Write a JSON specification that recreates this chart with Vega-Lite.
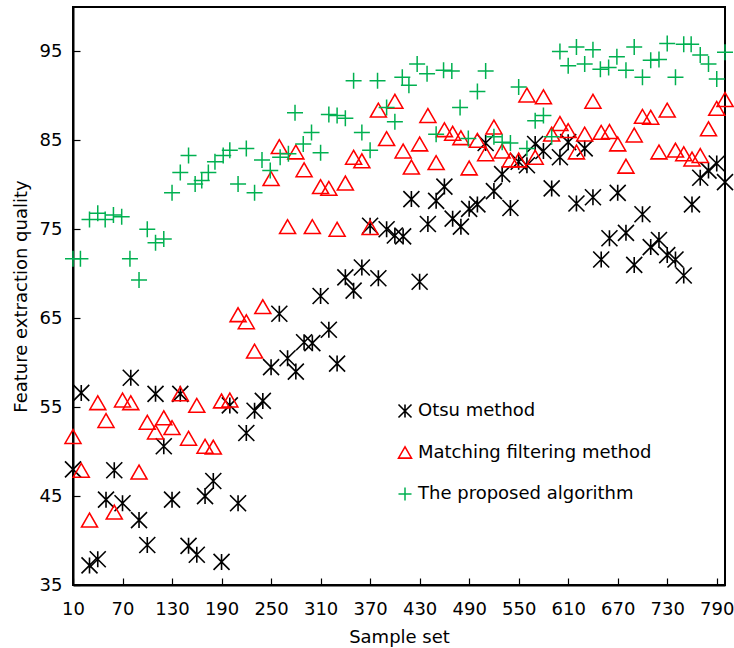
{
  "$schema": "https://vega.github.io/schema/vega-lite/v6.json",
  "width": 652,
  "height": 578,
  "autosize": {"type": "none"},
  "padding": {"left": 73, "top": 7, "right": 9, "bottom": 63},
  "background": "white",
  "config": {
    "view": {"stroke": "black", "strokeWidth": 2},
    "font": "DejaVu Sans",
    "axis": {
      "domainColor": "black", "domainWidth": 2, "tickColor": "black", "tickWidth": 1.2,
      "grid": false, "labelFont": "DejaVu Sans", "labelFontSize": 18, "labelColor": "black",
      "titleFont": "DejaVu Sans", "titleFontSize": 18, "titleFontWeight": "normal", "titleColor": "black"
    }
  },
  "data": {"values": [
    {"x":10,"y":48,"s":"Otsu method"},{"x":20,"y":56.6,"s":"Otsu method"},{"x":30,"y":37.2,"s":"Otsu method"},{"x":40,"y":37.9,"s":"Otsu method"},{"x":50,"y":44.6,"s":"Otsu method"},{"x":60,"y":47.9,"s":"Otsu method"},{"x":70,"y":44.2,"s":"Otsu method"},{"x":80,"y":58.3,"s":"Otsu method"},{"x":90,"y":42.3,"s":"Otsu method"},{"x":100,"y":39.5,"s":"Otsu method"},
    {"x":110,"y":56.5,"s":"Otsu method"},{"x":120,"y":50.6,"s":"Otsu method"},{"x":130,"y":44.6,"s":"Otsu method"},{"x":140,"y":56.5,"s":"Otsu method"},{"x":150,"y":39.4,"s":"Otsu method"},{"x":160,"y":38.4,"s":"Otsu method"},{"x":170,"y":45,"s":"Otsu method"},{"x":180,"y":46.7,"s":"Otsu method"},{"x":190,"y":37.6,"s":"Otsu method"},{"x":200,"y":55.2,"s":"Otsu method"},
    {"x":210,"y":44.2,"s":"Otsu method"},{"x":220,"y":52.1,"s":"Otsu method"},{"x":230,"y":54.6,"s":"Otsu method"},{"x":240,"y":55.7,"s":"Otsu method"},{"x":250,"y":59.5,"s":"Otsu method"},{"x":260,"y":65.5,"s":"Otsu method"},{"x":270,"y":60.5,"s":"Otsu method"},{"x":280,"y":59,"s":"Otsu method"},{"x":290,"y":62.3,"s":"Otsu method"},{"x":300,"y":62.2,"s":"Otsu method"},
    {"x":310,"y":67.5,"s":"Otsu method"},{"x":320,"y":63.7,"s":"Otsu method"},{"x":330,"y":59.9,"s":"Otsu method"},{"x":340,"y":69.6,"s":"Otsu method"},{"x":350,"y":68.1,"s":"Otsu method"},{"x":360,"y":70.7,"s":"Otsu method"},{"x":370,"y":75.4,"s":"Otsu method"},{"x":380,"y":69.5,"s":"Otsu method"},{"x":390,"y":75,"s":"Otsu method"},{"x":400,"y":74.3,"s":"Otsu method"},
    {"x":410,"y":74.2,"s":"Otsu method"},{"x":420,"y":78.4,"s":"Otsu method"},{"x":430,"y":69.1,"s":"Otsu method"},{"x":440,"y":75.6,"s":"Otsu method"},{"x":450,"y":78.2,"s":"Otsu method"},{"x":460,"y":79.8,"s":"Otsu method"},{"x":470,"y":76.2,"s":"Otsu method"},{"x":480,"y":75.3,"s":"Otsu method"},{"x":490,"y":77.3,"s":"Otsu method"},{"x":500,"y":77.8,"s":"Otsu method"},
    {"x":510,"y":84.7,"s":"Otsu method"},{"x":520,"y":79.3,"s":"Otsu method"},{"x":530,"y":81.2,"s":"Otsu method"},{"x":540,"y":77.4,"s":"Otsu method"},{"x":550,"y":82.6,"s":"Otsu method"},{"x":560,"y":82.2,"s":"Otsu method"},{"x":570,"y":84.6,"s":"Otsu method"},{"x":580,"y":83.8,"s":"Otsu method"},{"x":590,"y":79.6,"s":"Otsu method"},{"x":600,"y":83.1,"s":"Otsu method"},
    {"x":610,"y":84.8,"s":"Otsu method"},{"x":620,"y":77.9,"s":"Otsu method"},{"x":630,"y":84.1,"s":"Otsu method"},{"x":640,"y":78.6,"s":"Otsu method"},{"x":650,"y":71.6,"s":"Otsu method"},{"x":660,"y":74,"s":"Otsu method"},{"x":670,"y":79.1,"s":"Otsu method"},{"x":680,"y":74.6,"s":"Otsu method"},{"x":690,"y":71,"s":"Otsu method"},{"x":700,"y":76.7,"s":"Otsu method"},
    {"x":710,"y":73,"s":"Otsu method"},{"x":720,"y":73.8,"s":"Otsu method"},{"x":730,"y":72.1,"s":"Otsu method"},{"x":740,"y":71.6,"s":"Otsu method"},{"x":750,"y":69.8,"s":"Otsu method"},{"x":760,"y":77.8,"s":"Otsu method"},{"x":770,"y":80.8,"s":"Otsu method"},{"x":780,"y":81.6,"s":"Otsu method"},{"x":790,"y":82.4,"s":"Otsu method"},{"x":800,"y":80.3,"s":"Otsu method"},

    {"x":10,"y":51.7,"s":"Matching filtering method"},{"x":20,"y":47.9,"s":"Matching filtering method"},{"x":30,"y":42.3,"s":"Matching filtering method"},{"x":40,"y":55.5,"s":"Matching filtering method"},{"x":50,"y":53.5,"s":"Matching filtering method"},{"x":60,"y":43.2,"s":"Matching filtering method"},{"x":70,"y":55.8,"s":"Matching filtering method"},{"x":80,"y":55.5,"s":"Matching filtering method"},{"x":90,"y":47.7,"s":"Matching filtering method"},{"x":100,"y":53.3,"s":"Matching filtering method"},
    {"x":110,"y":52.2,"s":"Matching filtering method"},{"x":120,"y":53.8,"s":"Matching filtering method"},{"x":130,"y":52.7,"s":"Matching filtering method"},{"x":140,"y":56.5,"s":"Matching filtering method"},{"x":150,"y":51.5,"s":"Matching filtering method"},{"x":160,"y":55.2,"s":"Matching filtering method"},{"x":170,"y":50.6,"s":"Matching filtering method"},{"x":180,"y":50.5,"s":"Matching filtering method"},{"x":190,"y":55.7,"s":"Matching filtering method"},{"x":200,"y":55.8,"s":"Matching filtering method"},
    {"x":210,"y":65.4,"s":"Matching filtering method"},{"x":220,"y":64.6,"s":"Matching filtering method"},{"x":230,"y":61.3,"s":"Matching filtering method"},{"x":240,"y":66.3,"s":"Matching filtering method"},{"x":250,"y":80.7,"s":"Matching filtering method"},{"x":260,"y":84.3,"s":"Matching filtering method"},{"x":270,"y":75.3,"s":"Matching filtering method"},{"x":280,"y":83.7,"s":"Matching filtering method"},{"x":290,"y":81.7,"s":"Matching filtering method"},{"x":300,"y":75.3,"s":"Matching filtering method"},
    {"x":310,"y":79.8,"s":"Matching filtering method"},{"x":320,"y":79.6,"s":"Matching filtering method"},{"x":330,"y":75,"s":"Matching filtering method"},{"x":340,"y":80.2,"s":"Matching filtering method"},{"x":350,"y":83.1,"s":"Matching filtering method"},{"x":360,"y":82.7,"s":"Matching filtering method"},{"x":370,"y":75.2,"s":"Matching filtering method"},{"x":380,"y":88.4,"s":"Matching filtering method"},{"x":390,"y":85.2,"s":"Matching filtering method"},{"x":400,"y":89.4,"s":"Matching filtering method"},
    {"x":410,"y":83.8,"s":"Matching filtering method"},{"x":420,"y":82,"s":"Matching filtering method"},{"x":430,"y":84.6,"s":"Matching filtering method"},{"x":440,"y":87.8,"s":"Matching filtering method"},{"x":450,"y":82.5,"s":"Matching filtering method"},{"x":460,"y":86.2,"s":"Matching filtering method"},{"x":470,"y":85.8,"s":"Matching filtering method"},{"x":480,"y":85.3,"s":"Matching filtering method"},{"x":490,"y":81.9,"s":"Matching filtering method"},{"x":500,"y":85,"s":"Matching filtering method"},
    {"x":510,"y":83.5,"s":"Matching filtering method"},{"x":520,"y":86.5,"s":"Matching filtering method"},{"x":530,"y":83.8,"s":"Matching filtering method"},{"x":540,"y":82.8,"s":"Matching filtering method"},{"x":550,"y":82.8,"s":"Matching filtering method"},{"x":560,"y":90.1,"s":"Matching filtering method"},{"x":570,"y":83.1,"s":"Matching filtering method"},{"x":580,"y":89.9,"s":"Matching filtering method"},{"x":590,"y":85.7,"s":"Matching filtering method"},{"x":600,"y":86.9,"s":"Matching filtering method"},
    {"x":610,"y":86.1,"s":"Matching filtering method"},{"x":620,"y":83.7,"s":"Matching filtering method"},{"x":630,"y":85.7,"s":"Matching filtering method"},{"x":640,"y":89.4,"s":"Matching filtering method"},{"x":650,"y":85.9,"s":"Matching filtering method"},{"x":660,"y":86,"s":"Matching filtering method"},{"x":670,"y":84.6,"s":"Matching filtering method"},{"x":680,"y":82.1,"s":"Matching filtering method"},{"x":690,"y":85.6,"s":"Matching filtering method"},{"x":700,"y":87.7,"s":"Matching filtering method"},
    {"x":710,"y":87.6,"s":"Matching filtering method"},{"x":720,"y":83.7,"s":"Matching filtering method"},{"x":730,"y":88.4,"s":"Matching filtering method"},{"x":740,"y":83.9,"s":"Matching filtering method"},{"x":750,"y":83.5,"s":"Matching filtering method"},{"x":760,"y":82.9,"s":"Matching filtering method"},{"x":770,"y":83.3,"s":"Matching filtering method"},{"x":780,"y":86.3,"s":"Matching filtering method"},{"x":790,"y":88.6,"s":"Matching filtering method"},{"x":800,"y":89.6,"s":"Matching filtering method"},

    {"x":10,"y":71.7,"s":"The proposed algorithm"},{"x":19,"y":71.7,"s":"The proposed algorithm"},{"x":30,"y":76.1,"s":"The proposed algorithm"},{"x":40,"y":76.8,"s":"The proposed algorithm"},{"x":49,"y":76.1,"s":"The proposed algorithm"},{"x":59,"y":76.6,"s":"The proposed algorithm"},{"x":69,"y":76.4,"s":"The proposed algorithm"},{"x":79,"y":71.7,"s":"The proposed algorithm"},{"x":90,"y":69.3,"s":"The proposed algorithm"},{"x":100,"y":75,"s":"The proposed algorithm"},
    {"x":110,"y":73.5,"s":"The proposed algorithm"},{"x":120,"y":73.9,"s":"The proposed algorithm"},{"x":130,"y":79.1,"s":"The proposed algorithm"},{"x":140,"y":81.4,"s":"The proposed algorithm"},{"x":150,"y":83.3,"s":"The proposed algorithm"},{"x":158,"y":80.1,"s":"The proposed algorithm"},{"x":166,"y":80.5,"s":"The proposed algorithm"},{"x":174,"y":81.4,"s":"The proposed algorithm"},{"x":182,"y":82.6,"s":"The proposed algorithm"},{"x":192,"y":83.3,"s":"The proposed algorithm"},
    {"x":200,"y":83.9,"s":"The proposed algorithm"},{"x":210,"y":80.1,"s":"The proposed algorithm"},{"x":220,"y":84.1,"s":"The proposed algorithm"},{"x":230,"y":79.1,"s":"The proposed algorithm"},{"x":239,"y":82.8,"s":"The proposed algorithm"},{"x":249,"y":81.6,"s":"The proposed algorithm"},{"x":261,"y":83.1,"s":"The proposed algorithm"},{"x":271,"y":83.5,"s":"The proposed algorithm"},{"x":279,"y":88.1,"s":"The proposed algorithm"},{"x":289,"y":84.6,"s":"The proposed algorithm"},
    {"x":299,"y":85.9,"s":"The proposed algorithm"},{"x":310,"y":83.6,"s":"The proposed algorithm"},{"x":320,"y":87.9,"s":"The proposed algorithm"},{"x":330,"y":87.8,"s":"The proposed algorithm"},{"x":340,"y":87.5,"s":"The proposed algorithm"},{"x":350,"y":91.7,"s":"The proposed algorithm"},{"x":360,"y":85.9,"s":"The proposed algorithm"},{"x":370,"y":83.9,"s":"The proposed algorithm"},{"x":379,"y":91.7,"s":"The proposed algorithm"},{"x":390,"y":88.7,"s":"The proposed algorithm"},
    {"x":400,"y":87.1,"s":"The proposed algorithm"},{"x":409,"y":92.1,"s":"The proposed algorithm"},{"x":417,"y":91.2,"s":"The proposed algorithm"},{"x":427,"y":93.6,"s":"The proposed algorithm"},{"x":439,"y":92.5,"s":"The proposed algorithm"},{"x":450,"y":85.7,"s":"The proposed algorithm"},{"x":459,"y":92.9,"s":"The proposed algorithm"},{"x":469,"y":92.8,"s":"The proposed algorithm"},{"x":479,"y":88.7,"s":"The proposed algorithm"},{"x":489,"y":85.2,"s":"The proposed algorithm"},
    {"x":500,"y":90.5,"s":"The proposed algorithm"},{"x":510,"y":92.8,"s":"The proposed algorithm"},{"x":520,"y":85.4,"s":"The proposed algorithm"},{"x":530,"y":84.8,"s":"The proposed algorithm"},{"x":540,"y":84.7,"s":"The proposed algorithm"},{"x":550,"y":91,"s":"The proposed algorithm"},{"x":560,"y":84.1,"s":"The proposed algorithm"},{"x":570,"y":87.2,"s":"The proposed algorithm"},{"x":580,"y":87.8,"s":"The proposed algorithm"},{"x":590,"y":85.4,"s":"The proposed algorithm"},
    {"x":600,"y":95,"s":"The proposed algorithm"},{"x":610,"y":93.4,"s":"The proposed algorithm"},{"x":620,"y":95.5,"s":"The proposed algorithm"},{"x":630,"y":93.6,"s":"The proposed algorithm"},{"x":640,"y":95.2,"s":"The proposed algorithm"},{"x":649,"y":93,"s":"The proposed algorithm"},{"x":659,"y":93.2,"s":"The proposed algorithm"},{"x":669,"y":94.4,"s":"The proposed algorithm"},{"x":680,"y":92.9,"s":"The proposed algorithm"},{"x":690,"y":95.5,"s":"The proposed algorithm"},
    {"x":700,"y":92.1,"s":"The proposed algorithm"},{"x":710,"y":94,"s":"The proposed algorithm"},{"x":720,"y":94.1,"s":"The proposed algorithm"},{"x":730,"y":95.9,"s":"The proposed algorithm"},{"x":740,"y":92.1,"s":"The proposed algorithm"},{"x":750,"y":95.8,"s":"The proposed algorithm"},{"x":759,"y":95.8,"s":"The proposed algorithm"},{"x":770,"y":94.6,"s":"The proposed algorithm"},{"x":780,"y":93.6,"s":"The proposed algorithm"},{"x":790,"y":91.9,"s":"The proposed algorithm"},{"x":800,"y":94.9,"s":"The proposed algorithm"}
  ]},
  "mark": {"type": "point", "filled": false, "size": 256, "opacity": 1},
  "encoding": {
    "x": {
      "field": "x", "type": "quantitative",
      "scale": {"domain": [10, 800], "nice": false, "zero": false},
      "axis": {"values": [10,70,130,190,250,310,370,430,490,550,610,670,730,790], "title": "Sample set", "tickSize": -7, "labelPadding": 22, "titlePadding": 10, "labelFlush": false}
    },
    "y": {
      "field": "y", "type": "quantitative",
      "scale": {"domain": [35, 100], "nice": false, "zero": false},
      "axis": {"values": [35,45,55,65,75,85,95], "title": "Feature extraction quality", "tickSize": -7, "labelPadding": 18, "titlePadding": 9, "labelFlush": false}
    },
    "color": {
      "field": "s", "type": "nominal",
      "scale": {"domain": ["Otsu method", "Matching filtering method", "The proposed algorithm"], "range": ["#000000", "#ff0000", "#00b050"]},
      "legend": {"orient": "none", "legendX": 323, "legendY": 395, "title": null, "labelFont": "DejaVu Sans", "labelFontSize": 18, "labelColor": "black", "labelLimit": 500, "symbolSize": 170, "symbolStrokeWidth": 2, "rowPadding": 22.5, "labelOffset": 4}
    },
    "shape": {
      "field": "s", "type": "nominal",
      "scale": {"domain": ["Otsu method", "Matching filtering method", "The proposed algorithm"], "range": ["M0,-1L0,1M-1,-1L1,1M-1,1L1,-1", "triangle-up", "M-1,0L1,0M0,-1L0,1"]}
    },
    "strokeWidth": {
      "field": "s", "type": "nominal",
      "scale": {"domain": ["Otsu method", "Matching filtering method", "The proposed algorithm"], "range": [1.6, 1.5, 3.2]}
    }
  }
}
